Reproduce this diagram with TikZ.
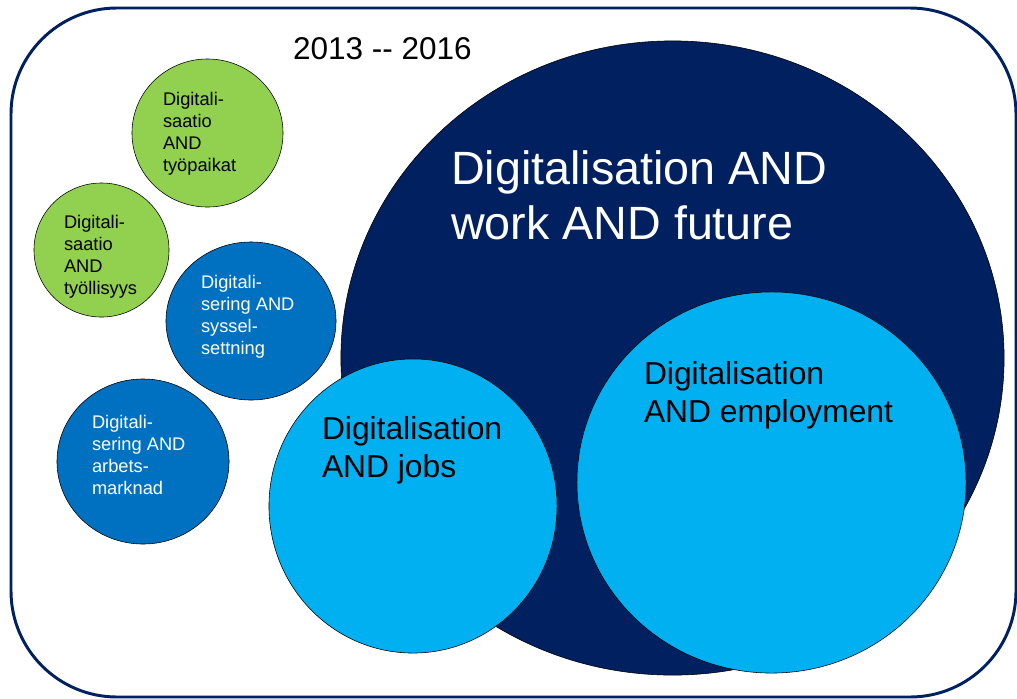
\documentclass[tikz,border=0pt]{standalone}
\usepackage{fontspec}
\setmainfont{Liberation Sans}
\usepackage{tikz}
\usetikzlibrary{shapes.geometric}
\definecolor{navyx}{RGB}{0,32,96}
\definecolor{lightx}{RGB}{0,176,240}
\definecolor{bluex}{RGB}{0,112,192}
\definecolor{greenx}{RGB}{146,208,80}
\tikzset{
  marco/.style={draw=navyx, line width=2.1pt, rounded corners=2.65cm},
  bola/.style={ellipse, draw=black, line width=0.4pt, inner sep=0pt, outer sep=0pt},
  bolaverde/.style={bola, fill=greenx},
  bolaazul/.style={bola, fill=bluex},
  bolaoscura/.style={bola, fill=navyx},
  bolaclara/.style={bola, fill=lightx},
  texto/.style={anchor=north west, inner sep=0pt, outer sep=0pt, align=left},
  textop/.style={texto, font=\fontsize{13pt}{15.8pt}\selectfont},
  textom/.style={texto, font=\fontsize{22.6pt}{27pt}\selectfont},
  textog/.style={texto, font=\fontsize{33.2pt}{39pt}\selectfont, text=white}
}
\begin{document}
\begin{tikzpicture}[x=0.025cm, y=-0.025cm]
  \useasboundingbox (0,0) rectangle (1017,698);
  \draw[marco] (11,8) rectangle (1016,697);
  % small circles
  \node[bolaverde, minimum width=3.775cm, minimum height=3.7cm] (tyopaikat) at (207.5,133) {};
  \node[bolaverde, minimum width=3.375cm, minimum height=3.35cm] (tyollisyys) at (101.5,250) {};
  \node[bolaazul, minimum width=4.25cm, minimum height=3.95cm] (syssel) at (251,321) {};
  \node[bolaazul, minimum width=4.3cm, minimum height=4.125cm] (arbets) at (143,461.5) {};
  % big circles
  \node[bolaoscura, minimum width=16.575cm, minimum height=15.85cm] (future) at (672.5,358) {};
  \node[bolaclara, minimum width=7.2cm, minimum height=7.35cm] (jobs) at (413,506) {};
  \node[bolaclara, minimum width=9.725cm, minimum height=9.525cm] (employ) at (771.5,482.5) {};
  % labels
  \node[texto, font=\fontsize{22.4pt}{26pt}\selectfont] (anos) at (293,37.5) {2013 -{}- 2016};
  \node[textop] (ttyopaikat) at (163,92) {Digitali-\\saatio\\AND\\työpaikat};
  \node[textop] (ttyollisyys) at (64,215) {Digitali-\\saatio\\AND\\työllisyys};
  \node[textop, text=white] (tsyssel) at (201,275) {Digitali-\\sering AND\\syssel-\\settning};
  \node[textop, text=white] (tarbets) at (92,415) {Digitali-\\sering AND\\arbets-\\marknad};
  \node[textog] (tfuture) at (451,151) {Digitalisation AND\\work AND future};
  \node[textom] (tjobs) at (322,416) {Digitalisation\\AND jobs};
  \node[textom] (temploy) at (644,361) {Digitalisation\\AND employment};
\end{tikzpicture}
\end{document}
